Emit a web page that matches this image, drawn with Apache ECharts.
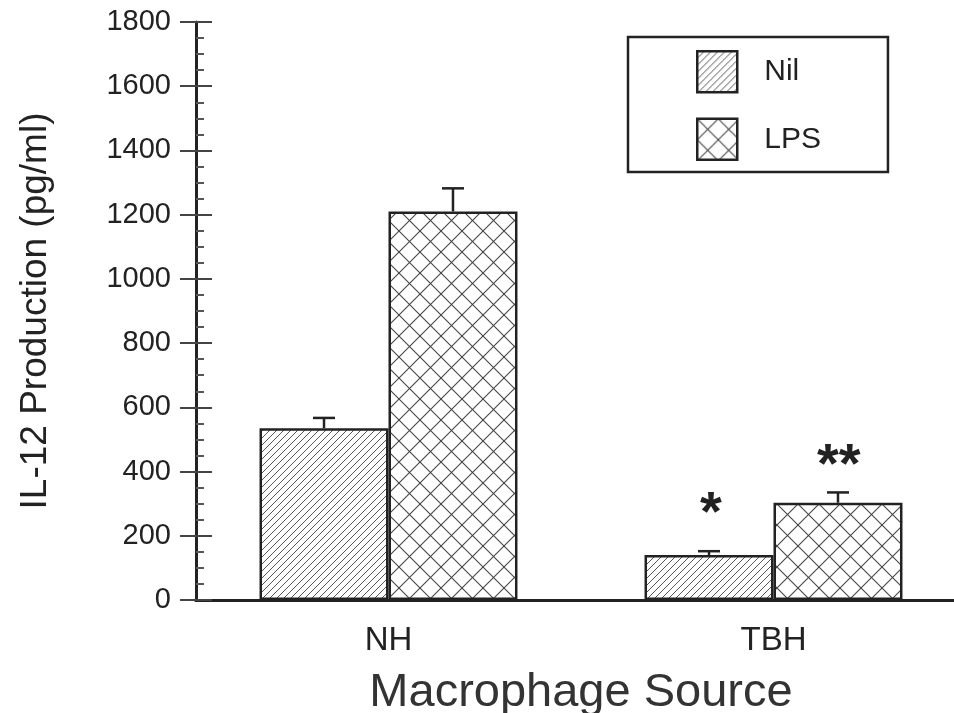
<!DOCTYPE html>
<html>
<head>
<meta charset="utf-8">
<style>
  html, body { margin: 0; padding: 0; background: #fff; }
  #chart { width: 954px; height: 713px; }
</style>
<script src="https://cdn.jsdelivr.net/npm/echarts@6/dist/echarts.min.js"></script>
</head>
<body>
<div id="chart"></div>
<script>
// IL-12 production by macrophage source, unstimulated (Nil) vs LPS
const categories = ['NH', 'TBH'];
const nilValues = [535, 140];
const nilErrors = [32, 12];
const lpsValues = [1210, 303];
const lpsErrors = [72, 32];
const yTicks = [0, 200, 400, 600, 800, 1000, 1200, 1400, 1600, 1800];

const FONT = '"Liberation Sans", Arial, Helvetica, sans-serif';
const INK = '#222';

// Single diagonal hatching ("/")
function hatchPattern() {
  const s = 7;
  const c = document.createElement('canvas');
  c.width = s; c.height = s;
  const g = c.getContext('2d');
  g.fillStyle = '#fff'; g.fillRect(0, 0, s, s);
  g.strokeStyle = '#555'; g.lineWidth = 1;
  for (let k = -1; k <= 1; k++) {
    g.beginPath();
    g.moveTo(k * s, s); g.lineTo(k * s + s, 0);
    g.stroke();
  }
  return c;
}
// Cross hatching ("X")
function crossPattern() {
  const s = 21;
  const c = document.createElement('canvas');
  c.width = s; c.height = s;
  const g = c.getContext('2d');
  g.fillStyle = '#fff'; g.fillRect(0, 0, s, s);
  g.strokeStyle = '#444'; g.lineWidth = 1.1;
  for (let k = -1; k <= 1; k++) {
    g.beginPath(); g.moveTo(k * s, s); g.lineTo(k * s + s, 0); g.stroke();
    g.beginPath(); g.moveTo(k * s, 0); g.lineTo(k * s + s, s); g.stroke();
  }
  return c;
}

const nilFill = { image: hatchPattern(), repeat: 'repeat' };
const lpsFill = { image: crossPattern(), repeat: 'repeat' };

const GAP = 0.33;

function errorBars(values, errors, side) {
  return {
    type: 'custom',
    xAxisIndex: 0,
    yAxisIndex: 0,
    silent: true,
    z: 5,
    data: values.map((v, i) => [i, v, errors[i]]),
    renderItem: function (params, api) {
      const i = api.value(0);
      const v = api.value(1);
      const e = api.value(2);
      const band = api.size([1, 0])[0];
      const bw = band * (1 - GAP) / 2;
      const base = api.coord([i, v]);
      const top = api.coord([i, v + e]);
      const x = base[0] + side * bw / 2;
      const half = 11;
      return {
        type: 'group',
        children: [
          { type: 'line', shape: { x1: x, y1: base[1], x2: x, y2: top[1] },
            style: { stroke: INK, lineWidth: 2.5 } },
          { type: 'line', shape: { x1: x - half, y1: top[1], x2: x + half, y2: top[1] },
            style: { stroke: INK, lineWidth: 2.5 } }
        ]
      };
    }
  };
}

const chart = echarts.init(document.getElementById('chart'));
chart.setOption({
  backgroundColor: '#fff',
  animation: false,
  textStyle: { fontFamily: FONT, color: INK },
  grid: { left: 196, top: 22, width: 770, height: 578, containLabel: false, outerBoundsMode: 'none' },
  legend: {
    left: 628,
    top: 37,
    orient: 'vertical',
    padding: [13, 67, 11, 68],
    itemWidth: 40,
    itemHeight: 41,
    itemGap: 24,
    borderColor: INK,
    borderWidth: 2.5,
    icon: 'rect',
    itemStyle: { borderColor: INK, borderWidth: 2.5 },
    textStyle: { fontFamily: FONT, fontSize: 30, color: INK, padding: [0, 0, 0, 22] },
    data: ['Nil', 'LPS']
  },
  xAxis: [
    {
      type: 'category',
      data: categories,
      position: 'bottom',
      axisLine: { show: true, lineStyle: { color: INK, width: 3 } },
      axisTick: { show: false },
      axisLabel: { fontFamily: FONT, fontSize: 33, color: INK, margin: 24 },
      name: 'Macrophage Source',
      nameLocation: 'middle',
      nameGap: 70,
      nameTextStyle: { fontFamily: FONT, fontSize: 47, color: '#333' }
    },
    {
      type: 'category',
      data: categories,
      position: 'top',
      axisLine: { show: true, lineStyle: { color: INK, width: 3 } },
      axisTick: { show: false },
      axisLabel: { show: false }
    }
  ],
  yAxis: [
    {
      type: 'value',
      min: yTicks[0],
      max: yTicks[yTicks.length - 1],
      interval: yTicks[1] - yTicks[0],
      position: 'left',
      splitLine: { show: false },
      axisLine: { show: true, lineStyle: { color: INK, width: 3 } },
      axisTick: { show: true, inside: false, length: 16, lineStyle: { color: '#444', width: 2 } },
      axisLabel: { fontFamily: FONT, fontSize: 29, color: INK, margin: 25,
                   formatter: function (v) { return String(v); } },
      name: 'IL-12 Production (pg/ml)',
      nameLocation: 'middle',
      nameGap: 142,
      nameRotate: 90,
      nameTextStyle: { fontFamily: FONT, fontSize: 37, color: INK }
    },
    {
      type: 'value',
      min: yTicks[0],
      max: yTicks[yTicks.length - 1],
      interval: yTicks[1] - yTicks[0],
      position: 'left',
      splitLine: { show: false },
      axisLine: { show: false },
      axisLabel: { show: false },
      axisTick: { show: true, inside: true, length: 16, lineStyle: { color: '#444', width: 2 } },
      minorTick: { show: true, splitNumber: 4, length: 8, lineStyle: { color: '#555', width: 2 } }
    }
  ],
  series: [
    {
      name: 'Nil',
      type: 'bar',
      data: nilValues,
      barGap: '0%',
      barCategoryGap: (GAP * 100) + '%',
      itemStyle: { color: nilFill, borderColor: INK, borderWidth: 2.5 },
      z: 3
    },
    {
      name: 'LPS',
      type: 'bar',
      data: lpsValues,
      barGap: '0%',
      barCategoryGap: (GAP * 100) + '%',
      itemStyle: { color: lpsFill, borderColor: INK, borderWidth: 2.5 },
      z: 3
    },
    errorBars(nilValues, nilErrors, -1),
    errorBars(lpsValues, lpsErrors, 1)
  ],
  graphic: [
    { type: 'text', left: 700, top: 487,
      style: { text: '*', font: 'bold 56px ' + FONT, fill: INK } },
    { type: 'text', left: 817, top: 439,
      style: { text: '**', font: 'bold 56px ' + FONT, fill: INK } }
  ]
});
</script>
</body>
</html>
